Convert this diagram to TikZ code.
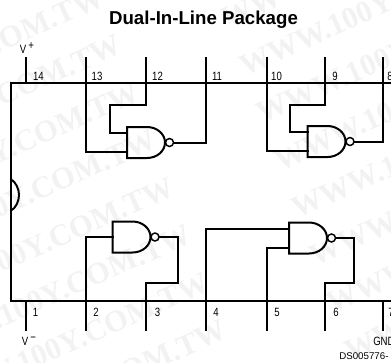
\documentclass[tikz,border=0pt]{standalone}
\usepackage{fontspec}
\setmainfont{Liberation Sans}
\newfontfamily\markfont{Liberation Serif}
\newfontfamily\pinfont[FakeStretch=0.8]{Liberation Sans}
\definecolor{markgrey}{gray}{0.95}
\tikzset{
    wire/.style={line width=1.5pt, line cap=rect, line join=miter},
    pinlabel/.style={font=\pinfont\fontsize{9pt}{10pt}\selectfont, inner sep=0pt},
    watermark/.style={font=\markfont\bfseries\fontsize{23pt}{23pt}\selectfont, text=markgrey, rotate=24, inner sep=0pt},
    nandgate/.pic={
        \draw[wire] (0,-15.5) -- (0,15.5) -- (20,15.5) .. controls (30,15.5) and (38,8.5) .. (38,0) .. controls (38,-8.5) and (30,-15.5) .. (20,-15.5) -- cycle;
        \draw[line width=1.1pt] (42.5,0) circle (4);
        \coordinate (-up) at (0,-9.5);
        \coordinate (-mid) at (0,0);
        \coordinate (-down) at (0,9.5);
        \coordinate (-out) at (46.5,0);
    }
}
\begin{document}
\begin{tikzpicture}[x=0.75pt, y=-0.75pt]
    \useasboundingbox (0,0) rectangle (391,362);
    % watermark
    \foreach \k in {-1,...,6}{
        \node[watermark, anchor=east] (markl\k) at ({120+17.5*\k},{43+47.5*\k}) {WWW.100Y.COM.TW};
        \node[watermark, anchor=west] (markr\k) at ({241+17.5*\k},{67+47.5*\k}) {WWW.100Y.COM.TW};
    }
    % title
    \node[font=\bfseries\fontsize{14pt}{16pt}\selectfont, inner sep=0pt] (title) at (203.5,20) {Dual-In-Line Package};
    % package
    \coordinate (boxtr) at (391,83);
    \coordinate (boxbr) at (391,301);
    \draw[wire, line cap=butt] (boxtr) -- (10.5,83) -- (10.5,301) -- (boxbr);
    \draw[wire, line cap=butt] (10.5,179) .. controls (16,182) and (19,189) .. (19,195) .. controls (19,201) and (16,208) .. (10.5,211);
    % pins
    \foreach \pname/\px/\lx in {14/26/38.5, 13/85.5/97, 12/146/157.5, 11/206/217, 10/267/276.5, 9/325/335, 8/382.5/390}{
        \coordinate (p\pname a) at (\px,58);
        \coordinate (p\pname) at (\px,83);
        \draw[wire] (p\pname a) -- (p\pname);
        \node[pinlabel] (l\pname) at (\lx,76) {\pname};
    }
    \foreach \pname/\px/\lx in {1/26/35.5, 2/85.5/96, 3/146/157.5, 4/206/216, 5/267/277, 6/325/336, 7/382.5/391}{
        \coordinate (p\pname a) at (\px,330);
        \coordinate (p\pname) at (\px,301);
        \draw[wire] (p\pname a) -- (p\pname);
        \node[pinlabel] (l\pname) at (\lx,312) {\pname};
    }
    % gates
    \pic (ga) at (127,142.5) {nandgate};
    \pic (gb) at (307.5,141.5) {nandgate};
    \pic (gc) at (112.5,237) {nandgate};
    \pic (gd) at (289,238) {nandgate};
    % wires
    \draw[wire] (p12) -- (146,105) -- (110,105) -- (110,133) -- (ga-up);
    \draw[wire] (p13) -- (85.5,152) -- (ga-down);
    \draw[wire] (ga-out) -- (206,142.5) -- (p11);
    \draw[wire] (p9) -- (325,105) -- (290,105) -- (290,132) -- (gb-up);
    \draw[wire] (p10) -- (267,151) -- (gb-down);
    \draw[wire] (gb-out) -- (382.5,141.5) -- (p8);
    \draw[wire] (p2) -- (85.5,237) -- (gc-mid);
    \draw[wire] (gc-out) -- (178,237) -- (178,283) -- (146,283) -- (p3);
    \draw[wire] (p4) -- (206,228.5) -- (gd-up);
    \draw[wire] (p5) -- (267,247.5) -- (gd-down);
    \draw[wire] (gd-out) -- (354,238) -- (354,283) -- (325,283) -- (p6);
    % labels
    \node[pinlabel] (vplus) at (27,48) {V\raisebox{2.5pt}{\,+}};
    \node[pinlabel] (vminus) at (29,341) {V\raisebox{2.5pt}{\,−}};
    \node[pinlabel, anchor=west] (gnd) at (373,341.5) {GND};
    \node[font=\fontsize{7.3pt}{9pt}\selectfont, inner sep=0pt, anchor=west] (dsnum) at (339,356) {DS005776-};
\end{tikzpicture}
\end{document}
